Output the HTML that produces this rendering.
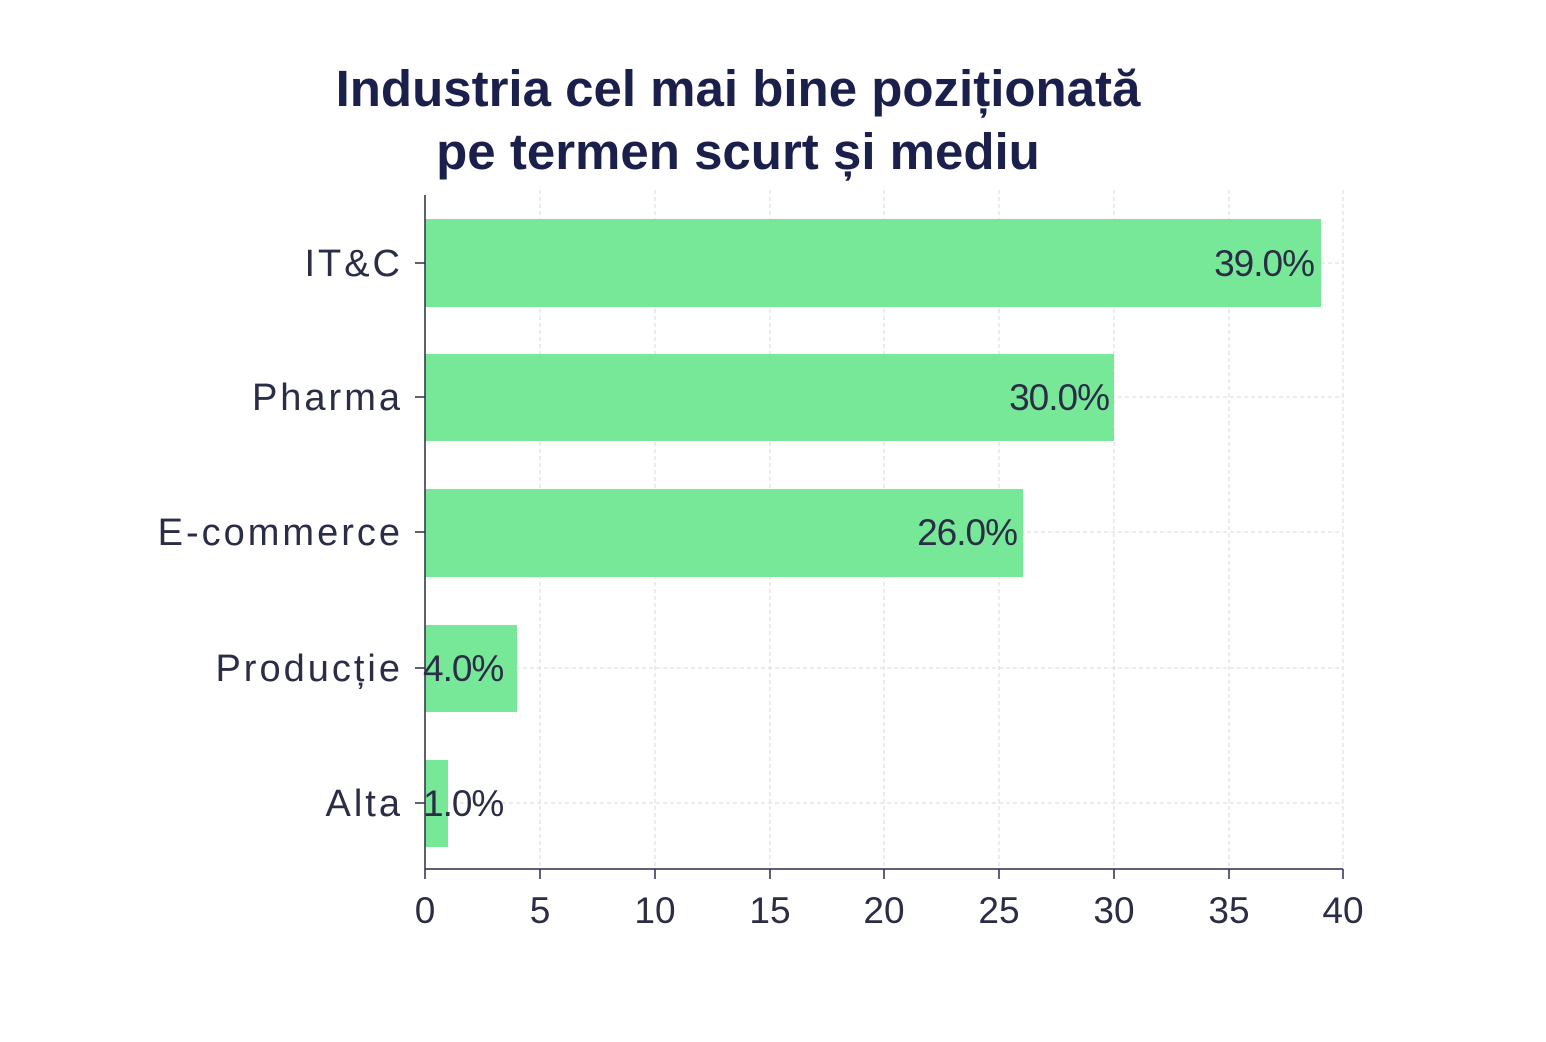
<!DOCTYPE html>
<html><head><meta charset="utf-8"><style>
html,body{margin:0;padding:0;background:#fff;}
svg{display:block;}
text{font-family:"Liberation Sans","DejaVu Sans",sans-serif;}
</style></head><body>
<svg width="1546" height="1042" viewBox="0 0 1546 1042" xmlns="http://www.w3.org/2000/svg">
<rect width="1546" height="1042" fill="#fff"/>
<text x="738" y="106" text-anchor="middle" font-size="51" font-weight="bold" fill="#1b1f4b">Industria cel mai bine poziționată</text>
<text x="738" y="169" text-anchor="middle" font-size="51" font-weight="bold" fill="#1b1f4b">pe termen scurt și mediu</text>
<g stroke="#d8d8d8" stroke-width="1" stroke-dasharray="4,3">
<line x1="540" y1="190" x2="540" y2="869"/><line x1="655" y1="190" x2="655" y2="869"/>
<line x1="770" y1="190" x2="770" y2="869"/><line x1="884" y1="190" x2="884" y2="869"/>
<line x1="999" y1="190" x2="999" y2="869"/><line x1="1114" y1="190" x2="1114" y2="869"/>
<line x1="1229" y1="190" x2="1229" y2="869"/><line x1="1343" y1="190" x2="1343" y2="869"/>
<line x1="425" y1="263" x2="1343" y2="263"/><line x1="425" y1="397" x2="1343" y2="397"/>
<line x1="425" y1="532" x2="1343" y2="532"/><line x1="425" y1="668" x2="1343" y2="668"/>
<line x1="425" y1="803" x2="1343" y2="803"/>
</g>
<g fill="#77e898">
<rect x="425" y="219" width="896" height="88"/>
<rect x="425" y="354" width="689" height="87"/>
<rect x="425" y="489" width="598" height="88"/>
<rect x="425" y="625" width="92" height="87"/>
<rect x="425" y="760" width="23" height="87"/>
</g>
<g stroke="#2a2d45" stroke-width="1.5">
<line x1="425" y1="195" x2="425" y2="869"/><line x1="425" y1="869" x2="1343" y2="869"/>
<line x1="415" y1="263" x2="425" y2="263"/><line x1="415" y1="397" x2="425" y2="397"/>
<line x1="415" y1="532" x2="425" y2="532"/><line x1="415" y1="668" x2="425" y2="668"/>
<line x1="415" y1="803" x2="425" y2="803"/>
<line x1="425" y1="869" x2="425" y2="879"/><line x1="540" y1="869" x2="540" y2="879"/>
<line x1="655" y1="869" x2="655" y2="879"/><line x1="770" y1="869" x2="770" y2="879"/>
<line x1="884" y1="869" x2="884" y2="879"/><line x1="999" y1="869" x2="999" y2="879"/>
<line x1="1114" y1="869" x2="1114" y2="879"/><line x1="1229" y1="869" x2="1229" y2="879"/>
<line x1="1343" y1="869" x2="1343" y2="879"/>
</g>
<g font-size="38" fill="#2a2d45" text-anchor="end" letter-spacing="3">
<text x="403" y="276">IT&amp;C</text>
<text x="403" y="410">Pharma</text>
<text x="403" y="545">E-commerce</text>
<text x="403" y="681">Producție</text>
<text x="403" y="816">Alta</text>
</g>
<g font-size="37" fill="#2a2d45" text-anchor="end">
<text x="1314" y="276" letter-spacing="-1">39.0%</text>
<text x="1109" y="410" letter-spacing="-1">30.0%</text>
<text x="1017" y="545" letter-spacing="-1">26.0%</text>
</g>
<g font-size="37" fill="#2a2d45">
<text x="423" y="681" letter-spacing="-1">4.0%</text>
<text x="423" y="816" letter-spacing="-1">1.0%</text>
</g>
<g font-size="37" fill="#2a2d45" text-anchor="middle">
<text x="425" y="923">0</text><text x="540" y="923">5</text><text x="655" y="923">10</text>
<text x="770" y="923">15</text><text x="884" y="923">20</text><text x="999" y="923">25</text>
<text x="1114" y="923">30</text><text x="1229" y="923">35</text><text x="1343" y="923">40</text>
</g>
</svg>
</body></html>
